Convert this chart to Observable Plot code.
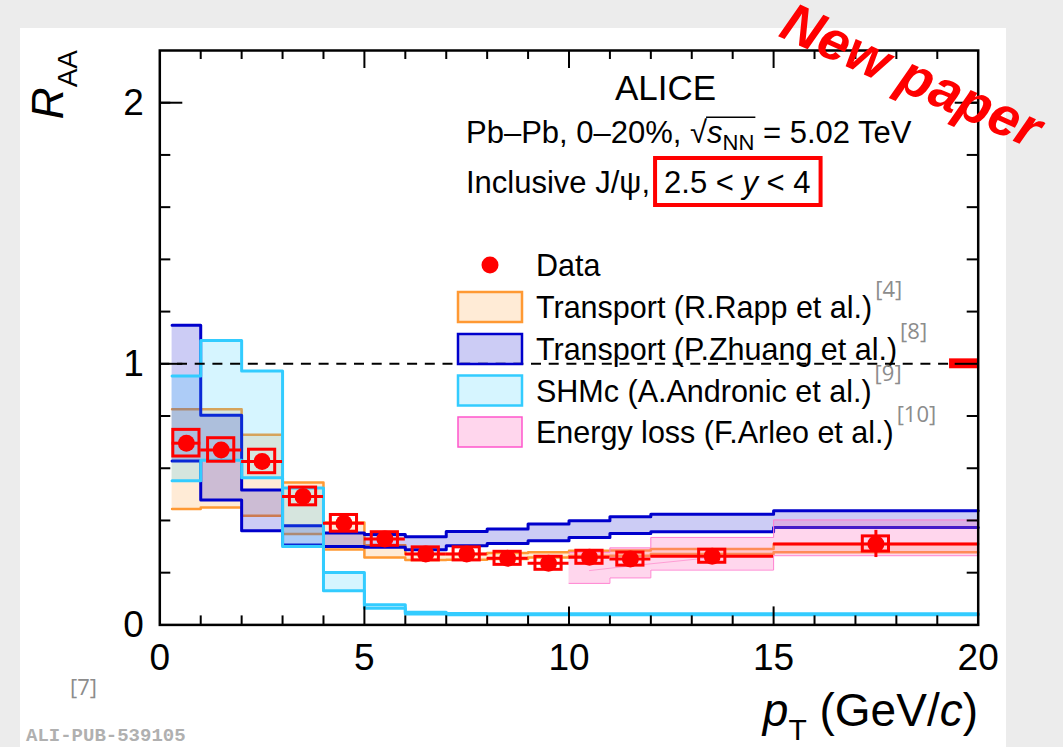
<!DOCTYPE html>
<html><head><meta charset="utf-8">
<script src="https://cdn.jsdelivr.net/npm/d3@7"></script>
<script src="https://cdn.jsdelivr.net/npm/@observablehq/plot@0.6"></script>
<style>
html,body{margin:0;padding:0;background:#ececec;}
#wrap{position:relative;width:1063px;height:747px;overflow:hidden;background:#ececec;}
#panel{position:absolute;left:20px;top:28px;width:986px;height:719px;background:#fff;}
#chart{position:absolute;left:0;top:0;}
</style></head><body>
<div id="wrap"><div id="panel"></div><div id="chart"></div></div>
<script>
// ---------------- data ----------------
const dataPt   = [0.65, 1.5, 2.5, 3.5, 4.5, 5.5, 6.5, 7.5, 8.5, 9.5, 10.5, 11.5, 13.5, 17.5];
const dataPtLo = [0.3, 1, 2, 3, 4, 5, 6, 7, 8, 9, 10, 11, 12, 15];
const dataPtHi = [1, 2, 3, 4, 5, 6, 7, 8, 9, 10, 11, 12, 15, 20];
const dataRaa  = [0.696, 0.670, 0.626, 0.492, 0.389, 0.329, 0.272, 0.272, 0.255, 0.236, 0.259, 0.252, 0.263, 0.310];
const dataStat = [0.020, 0.018, 0.018, 0.015, 0.013, 0.011, 0.010, 0.010, 0.010, 0.010, 0.011, 0.012, 0.013, 0.052];
const dataSyst = [0.051, 0.045, 0.045, 0.034, 0.032, 0.026, 0.025, 0.025, 0.025, 0.025, 0.025, 0.025, 0.025, 0.029];
const globalCenter = [1];
const globalUnc = 0.019;

const modelEdges = [0.3, 1, 2, 3, 4, 5, 6, 7, 8, 9, 10, 11, 12, 15, 20];
const rappLo   = [0.444, 0.450, 0.418, 0.348, 0.289, 0.258, 0.249, 0.250, 0.252, 0.258, 0.264, 0.265, 0.272, 0.278];
const rappHi   = [0.826, 0.826, 0.728, 0.545, 0.392, 0.305, 0.272, 0.272, 0.275, 0.278, 0.284, 0.285, 0.291, 0.310];
const zhuangLo = [0.628, 0.478, 0.361, 0.306, 0.300, 0.297, 0.288, 0.303, 0.312, 0.322, 0.335, 0.350, 0.357, 0.373];
const zhuangHi = [1.148, 0.803, 0.517, 0.380, 0.352, 0.346, 0.338, 0.358, 0.367, 0.386, 0.399, 0.414, 0.424, 0.437];
const shmcLo   = [0.552, 0.631, 0.564, 0.300, 0.131, 0.064, 0.042, 0.039, 0.039, 0.039, 0.039, 0.039, 0.039, 0.039];
const shmcHi   = [0.953, 1.089, 0.972, 0.524, 0.201, 0.077, 0.048, 0.044, 0.043, 0.043, 0.043, 0.043, 0.043, 0.043];
const elossEdges = [10, 11, 12, 15, 20];
const elossLo  = [0.159, 0.180, 0.210, 0.265];
const elossHi  = [0.278, 0.295, 0.335, 0.402];
const elossCentralPt  = [10.5, 11.5, 13.5];
const elossCentralVal = [0.208, 0.226, 0.258];

const xTickLabels = [0, 5, 10, 15, 20];
const xMajorTicks = [5, 10, 15];
const xMinorTicks = [1, 2, 3, 4, 6, 7, 8, 9, 11, 12, 13, 14, 16, 17, 18, 19];
const yTickLabels = [0, 1, 2];
const yMajorTicks = [1, 2];
const yMinorTicks = [0.2, 0.4, 0.6, 0.8, 1.2, 1.4, 1.6, 1.8, 2.0];

const legendLabels = ["Data", "Transport (R.Rapp et al.)", "Transport (P.Zhuang et al.)", "SHMc (A.Andronic et al.)", "Energy loss (F.Arleo et al.)"];
const legendRefs = ["", "[4]", "[8]", "[9]", "[10]"];

// ---------------- style ----------------
const FONT = "'Liberation Sans', Arial, Helvetica, sans-serif";
const RED = "#ff0000";
const C = {
  rapp:   {stroke: "#ff9933", fill: "#ff9933", op: 0.2, sw: 2.5},
  zhuang: {stroke: "#0000cc", fill: "#0000cc", op: 0.2, sw: 3},
  shmc:   {stroke: "#33ccff", fill: "#33ccff", op: 0.2, sw: 3},
  eloss:  {stroke: "#ff80d0", fill: "#ff66bb", op: 0.27, sw: 1}
};
const W = 1063, H = 747;
const M = {left: 159.3, right: 85.3, top: 50, bottom: 122.6};
const frameW = W - M.left - M.right, frameH = H - M.top - M.bottom;
const BOX_HALF = 0.32, X_MAX = 20, GLOBAL_BOX_W = 0.7;

function stepRows(edges, lo, hi) {
  const rows = lo.map((v, i) => ({x: edges[i], lo: v, hi: hi[i]}));
  rows.push({x: edges[edges.length - 1], lo: lo[lo.length - 1], hi: hi[hi.length - 1]});
  return rows;
}
function band(rows, c) {
  return [
    Plot.areaY(rows, {x: "x", y1: "lo", y2: "hi", curve: "step-after", fill: c.fill, fillOpacity: c.op}),
    Plot.lineY(rows, {x: "x", y: "hi", curve: "step-after", stroke: c.stroke, strokeWidth: c.sw}),
    Plot.lineY(rows, {x: "x", y: "lo", curve: "step-after", stroke: c.stroke, strokeWidth: c.sw})
  ];
}
const dataRows = dataPt.map((pt, i) => ({pt, lo: dataPtLo[i], hi: dataPtHi[i], raa: dataRaa[i], stat: dataStat[i], syst: dataSyst[i]}));
const elossCentral = elossCentralPt.map((x, i) => ({x, y: elossCentralVal[i]}));

const chart = Plot.plot({
  width: W, height: H,
  marginLeft: M.left, marginRight: M.right, marginTop: M.top, marginBottom: M.bottom,
  x: {domain: [0, 20]},
  y: {domain: [0, 2.2]},
  style: {background: "transparent", fontFamily: FONT, overflow: "visible"},
  marks: [
    ...band(stepRows(modelEdges, rappLo, rappHi), C.rapp),
    ...band(stepRows(modelEdges, zhuangLo, zhuangHi), C.zhuang),
    ...band(stepRows(modelEdges, shmcLo, shmcHi), C.shmc),
    ...band(stepRows(elossEdges, elossLo, elossHi), C.eloss),
    Plot.line(elossCentral, {x: "x", y: "y", stroke: "#ff66bb", strokeOpacity: 0.5, strokeWidth: 1}),
    Plot.ruleY([1], {stroke: "black", strokeWidth: 2, strokeDasharray: "10,7.7"}),
    Plot.ruleY(dataRows, {y: "raa", x1: "lo", x2: "hi", stroke: RED, strokeWidth: 3}),
    Plot.ruleX(dataRows, {x: "pt", y1: d => d.raa - d.stat, y2: d => d.raa + d.stat, stroke: RED, strokeWidth: 3}),
    Plot.rect(dataRows, {x1: d => d.pt - BOX_HALF, x2: d => d.pt + BOX_HALF, y1: d => d.raa - d.syst, y2: d => d.raa + d.syst, fill: "none", stroke: RED, strokeWidth: 3}),
    Plot.dot(dataRows, {x: "pt", y: "raa", r: 8.5, fill: RED, stroke: "none"}),
    Plot.rect(globalCenter, {x1: () => X_MAX - GLOBAL_BOX_W, x2: () => X_MAX, y1: d => d - globalUnc, y2: d => d + globalUnc, fill: RED}),
    // inward ticks on all sides
    Plot.tickX(xMinorTicks, {x: d => d, insetTop: frameH - 9, stroke: "black", strokeWidth: 2}),
    Plot.tickX(xMinorTicks, {x: d => d, insetBottom: frameH - 9, stroke: "black", strokeWidth: 2}),
    Plot.tickX(xMajorTicks, {x: d => d, insetTop: frameH - 18, stroke: "black", strokeWidth: 2}),
    Plot.tickX(xMajorTicks, {x: d => d, insetBottom: frameH - 18, stroke: "black", strokeWidth: 2}),
    Plot.tickY(yMinorTicks, {y: d => d, insetRight: frameW - 11, stroke: "black", strokeWidth: 2}),
    Plot.tickY(yMinorTicks, {y: d => d, insetLeft: frameW - 11, stroke: "black", strokeWidth: 2}),
    Plot.tickY(yMajorTicks, {y: d => d, insetRight: frameW - 23, stroke: "black", strokeWidth: 2}),
    Plot.tickY(yMajorTicks, {y: d => d, insetLeft: frameW - 23, stroke: "black", strokeWidth: 2}),
    Plot.frame({stroke: "black", strokeWidth: 2.5}),
    Plot.axisX({ticks: xTickLabels, tickSize: 0, tickPadding: 19, fontSize: 37, tickFormat: d => String(d), label: null, fill: "black"}),
    Plot.axisY({ticks: yTickLabels, tickSize: 0, tickPadding: 16, fontSize: 37, tickFormat: d => String(d), label: null, fill: "black"})
  ]
});
document.getElementById("chart").appendChild(chart);

// ---------------- text overlays ----------------
const svg = d3.select(chart);
const ov = svg.append("g").attr("font-family", FONT).attr("text-anchor", "start");
function rich(parent, pieces) {
  const g = parent.append("g").attr("text-anchor", "start");
  let cx = 0; const spans = [];
  for (const p of pieces) {
    cx += p.dx || 0;
    const t = g.append("text").attr("x", cx).attr("y", p.dy || 0).attr("text-anchor", "start")
      .attr("font-size", p.size).attr("font-style", p.italic ? "italic" : "normal")
      .attr("font-weight", p.bold ? "bold" : "normal")
      .attr("fill", p.fill || "#000").style("white-space", "pre").text(p.t);
    if (p.family) t.attr("font-family", p.family);
    const w = t.node().getComputedTextLength();
    spans.push({x0: cx, x1: cx + w});
    cx += w;
  }
  return {g, width: cx, spans};
}

// header
ov.append("text").attr("x", 665.5).attr("y", 100).attr("text-anchor", "middle").attr("font-size", 35).text("ALICE");
const l2 = rich(ov, [
  {t: "Pb–Pb, 0–20%, ", size: 31}, {t: "√", size: 31}, {t: "s", size: 31, italic: true},
  {t: "NN", size: 22, dy: 7}, {t: " = 5.02 TeV", size: 31}
]);
l2.g.attr("transform", "translate(466,143.3)");
l2.g.append("line").attr("x1", l2.spans[2].x0 - 1).attr("x2", l2.spans[3].x1 + 1)
  .attr("y1", -26).attr("y2", -26).attr("stroke", "#000").attr("stroke-width", 1.5);
const l3 = rich(ov, [
  {t: "Inclusive J/ψ,", size: 31}, {t: "2.5 < ", size: 31, dx: 14}, {t: "y", size: 31, italic: true}, {t: " < 4", size: 31}
]);
l3.g.attr("transform", "translate(466,193.3)");
l3.g.append("rect").attr("x", l3.spans[1].x0 - 9).attr("y", 158 - 193.3)
  .attr("width", l3.spans[3].x1 - l3.spans[1].x0 + 19).attr("height", 47)
  .attr("fill", "none").attr("stroke", RED).attr("stroke-width", 4);

// legend
const legY = [265, 307, 349, 390.5, 432];
const legStyles = [null, C.rapp, C.zhuang, C.shmc, C.eloss];
legendLabels.forEach((lab, i) => {
  const y = legY[i];
  if (i === 0) {
    ov.append("circle").attr("cx", 490).attr("cy", y).attr("r", 8.5).attr("fill", RED);
  } else {
    const c = legStyles[i];
    ov.append("rect").attr("x", 458).attr("y", y - 15).attr("width", 64).attr("height", 30)
      .attr("fill", c.fill).attr("fill-opacity", c.op).attr("stroke", i === 4 ? "#ff55cc" : c.stroke)
      .attr("stroke-width", i === 4 ? 1.5 : 2.5);
  }
  const r = rich(ov, [{t: lab, size: 30.5}]);
  r.g.attr("transform", `translate(536,${y + 11})`);
  if (legendRefs[i]) {
    r.g.append("text").attr("x", r.width + 3).attr("y", -21).attr("font-size", 22).attr("text-anchor", "start")
      .attr("font-family", "'Open Sans', sans-serif").attr("fill", "#8c8c8c").text(legendRefs[i]);
  }
});

// axis titles
const yt = rich(ov, [{t: "R", size: 44, italic: true}, {t: "AA", size: 28, dy: 14}]);
yt.g.attr("transform", `translate(63,50) rotate(-90) translate(${-yt.width},0)`);
const xt = rich(ov, [
  {t: "p", size: 46, italic: true}, {t: "T", size: 30, dy: 14}, {t: " (GeV/", size: 46},
  {t: "c", size: 46, italic: true}, {t: ")", size: 46}
]);
xt.g.attr("transform", `translate(${978 - xt.width},726)`);

// footnotes
ov.append("text").attr("x", 70).attr("y", 695).attr("font-size", 22)
  .attr("font-family", "'Open Sans', sans-serif").attr("fill", "#8c8c8c").text("[7]");
ov.append("text").attr("x", 26).attr("y", 741).attr("font-size", 19).attr("font-weight", "bold")
  .attr("font-family", "'Liberation Mono', 'DejaVu Sans Mono', monospace").attr("fill", "#b0b0b0").text("ALI-PUB-539105");

// stamp
ov.append("text").attr("transform", "translate(912,75) rotate(24)").attr("x", 0).attr("y", 19)
  .attr("text-anchor", "middle").attr("font-size", 55).attr("font-weight", "bold").attr("font-style", "italic")
  .attr("fill", RED).text("New paper");
</script>
</body></html>
